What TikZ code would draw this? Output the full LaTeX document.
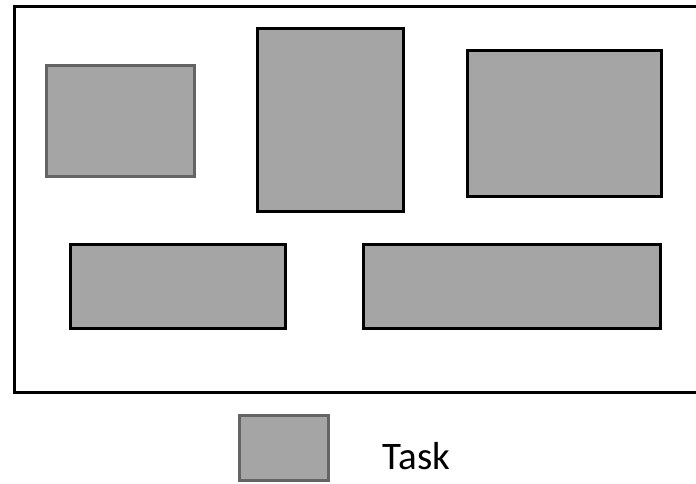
\documentclass[tikz,border=0pt]{standalone}
\usepackage{fontspec}
\setmainfont{Carlito}
\definecolor{taskfill}{HTML}{A5A5A5}
\definecolor{taskedge}{HTML}{646464}
\begin{document}
\begin{tikzpicture}[x=1pt,y=-1pt,
  task/.style={draw=black,fill=taskfill,line width=3pt,inner sep=0pt,outer sep=0pt,rectangle},
  lighttask/.style={task,draw=taskedge},
  frame/.style={draw=black,line width=3pt}]
\useasboundingbox (0,0) rectangle (696,483);
\clip (0,0) rectangle (696,483);
\node[frame,minimum width=686pt,minimum height=386pt,inner sep=0pt,anchor=north west] (outer) at (13,5) {};
\newcommand{\taskbox}[6]{\node[#1,minimum width=#4pt,minimum height=#5pt,anchor=north west] (#6) at (#2,#3) {};}
\taskbox{lighttask}{46.5}{65.5}{148}{111}{t1}
\taskbox{task}{257}{28}{146}{183}{t2}
\taskbox{task}{467}{50}{194}{146}{t3}
\taskbox{task}{70}{244.5}{215}{84}{t4}
\taskbox{task}{363}{244.5}{297}{84}{t5}
\taskbox{lighttask}{239.5}{415.5}{89}{65}{legend}
\node[anchor=base,inner sep=0pt,font=\fontsize{39}{42}\selectfont] (lab) at (416.5,469) {Task};
\end{tikzpicture}
\end{document}
